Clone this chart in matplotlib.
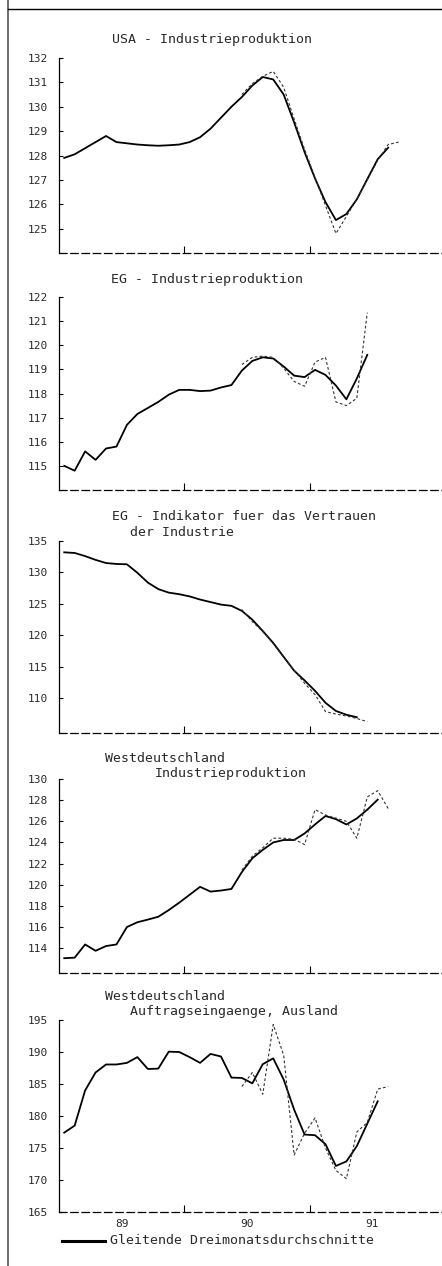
import matplotlib
matplotlib.use('Agg')
import matplotlib.pyplot as plt
from matplotlib.lines import Line2D
import numpy as np

# monthly values, month 0 = Jan 1989
# solid = gleitende Dreimonatsdurchschnitte, dashed = monthly values (from June 1990)
usa_ma = [127.9, 128.05, 128.3, 128.55, 128.8, 128.55, 128.5, 128.45, 128.42, 128.4,
          128.42, 128.45, 128.55, 128.75, 129.1, 129.55, 130.0, 130.4, 130.87, 131.22,
          131.12, 130.5, 129.36, 128.14, 127.06, 126.09, 125.35, 125.6, 126.2, 127.03,
          127.85, 128.32]
usa_raw = [130.5, 130.95, 131.25, 131.45, 130.8, 129.5, 128.25, 127.1, 125.95, 124.8,
           125.5, 126.2, 127.0, 127.8, 128.45, 128.55]

eg_ma = [115.0, 114.8, 115.6, 115.25, 115.72, 115.8, 116.7, 117.15, 117.4, 117.65,
         117.95, 118.15, 118.15, 118.1, 118.12, 118.25, 118.35, 118.95, 119.35, 119.5,
         119.45, 119.12, 118.74, 118.68, 118.98, 118.77, 118.33, 117.76, 118.62, 119.6]
eg_raw = [119.2, 119.5, 119.55, 119.5, 119.05, 118.5, 118.3, 119.3, 119.5, 117.65,
          117.5, 117.8, 121.35]

ind_ma = [133.2, 133.1, 132.6, 132.0, 131.5, 131.35, 131.3, 129.95, 128.4, 127.36,
          126.8, 126.55, 126.2, 125.7, 125.3, 124.9, 124.7, 123.9, 122.5, 120.7,
          118.8, 116.6, 114.4, 112.85, 111.2, 109.3, 108.0, 107.4, 107.0]
ind_raw = [124.1, 122.2, 120.6, 118.7, 116.5, 114.5, 112.4, 110.6, 107.9, 107.5,
           107.2, 106.8, 106.3]

wd_ma = [113.05, 113.1, 114.35, 113.75, 114.2, 114.35, 116.0, 116.45, 116.7, 116.97,
         117.6, 118.3, 119.05, 119.8, 119.35, 119.45, 119.6, 121.2, 122.5, 123.3,
         124.0, 124.23, 124.23, 124.85, 125.7, 126.5, 126.2, 125.7, 126.27, 127.1,
         128.05]
wd_raw = [121.4, 122.7, 123.5, 124.4, 124.4, 124.3, 123.8, 127.1, 126.6, 126.3,
          126.0, 124.4, 128.3, 128.9, 127.2]

auf_ma = [177.4, 178.5, 184.0, 186.8, 188.05, 188.05, 188.3, 189.2, 187.35, 187.4,
          190.05, 190.0, 189.2, 188.3, 189.7, 189.3, 186.0, 185.95, 185.1, 188.1,
          189.0, 185.7, 181.0, 177.1, 177.0, 175.6, 172.2, 172.9, 175.3, 178.8,
          182.3]
auf_raw = [184.6, 186.8, 183.4, 194.3, 189.5, 173.9, 177.3, 179.7, 175.0, 171.5,
           170.2, 177.5, 179.0, 184.2, 184.6]

raw_start = 17

titles = [
    ["USA - Industrieproduktion"],
    ["EG - Industrieproduktion"],
    ["EG - Indikator fuer das Vertrauen", "der Industrie"],
    ["Westdeutschland", "Industrieproduktion"],
    ["Westdeutschland", "Auftragseingaenge, Ausland"],
]
yticks = [
    list(range(125, 133)),
    list(range(115, 123)),
    list(range(110, 136, 5)),
    list(range(114, 131, 2)),
    list(range(165, 196, 5)),
]
ylims = [(124, 132), (114, 122), (104.5, 135), (111.65, 130), (165, 195)]
year_labels = ['89', '90', '91']
legend_text = 'Gleitende Dreimonatsdurchschnitte'

series = [(usa_ma, usa_raw), (eg_ma, eg_raw), (ind_ma, ind_raw),
          (wd_ma, wd_raw), (auf_ma, auf_raw)]

W, H = 442, 1266
fig = plt.figure(figsize=(W / 100, H / 100), dpi=100)
fig.patch.set_facecolor('white')
font = 'DejaVu Sans Mono'
tc = '#2a2a2a'

# pixel layout: (axis top, axis bottom)
boxes = [(58, 253), (297, 490), (541, 733), (779, 973), (1020, 1212)]
x0 = 59
# title lines: (center x, y)
title_pos = [
    [(212, 40)],
    [(207, 279)],
    [(244, 517), (182, 533)],
    [(165, 758), (231, 773)],
    [(165, 997), (234, 1012)],
]

for i, (top, bot) in enumerate(boxes):
    ax = fig.add_axes([x0 / W, 1 - bot / H, (W - x0) / W, (bot - top) / H])
    ma, raw = series[i]
    ax.plot(np.arange(len(ma)) + 0.5, ma, color='black', lw=1.3, solid_joinstyle='round')
    ax.plot(np.arange(len(raw)) + raw_start + 0.5, raw, color='#333333', lw=0.8,
            dashes=(2.5, 2))
    ax.set_xlim(0, (W - x0) / 10.45)
    ax.set_ylim(*ylims[i])
    ax.spines['top'].set_visible(False)
    ax.spines['right'].set_visible(False)
    ax.spines['left'].set_linewidth(0.9)
    ax.spines['bottom'].set_linewidth(0.9)
    ax.spines['bottom'].set_linestyle((0, (6, 3)))
    ax.set_yticks(yticks[i])
    ax.set_yticklabels([str(v) for v in yticks[i]], fontfamily=font, fontsize=8, color=tc)
    ax.tick_params(axis='y', direction='in', length=3, width=0.8, pad=8)
    ax.set_xticks([12, 24])
    ax.set_xticklabels([])
    ax.tick_params(axis='x', which='major', direction='in', length=5, width=0.8)
    if i == 4:
        ax.set_xticks([6, 18, 30], minor=True)
        ax.set_xticklabels(year_labels, minor=True, fontfamily=font, fontsize=8, color=tc)
        ax.tick_params(axis='x', which='minor', length=0, pad=5)
    for line, (cx, cy) in zip(titles[i], title_pos[i]):
        fig.text(cx / W, 1 - cy / H, line, ha='center', va='center',
                 fontfamily=font, fontsize=9.5, color=tc)

# legend
fig.add_artist(Line2D([62 / W, 105 / W], [1 - 1241 / H, 1 - 1241 / H], color='black', lw=2.2))
fig.text(110 / W, 1 - 1241 / H, legend_text, ha='left', va='center',
         fontfamily=font, fontsize=9.5, color=tc)

# page border of the scan
fig.add_artist(Line2D([8 / W, 8 / W], [0, 1], color='#555555', lw=1.2))
fig.add_artist(Line2D([8 / W, 1], [1 - 9 / H, 1 - 9 / H], color='black', lw=1.0))

fig.savefig('out.png', dpi=100)
